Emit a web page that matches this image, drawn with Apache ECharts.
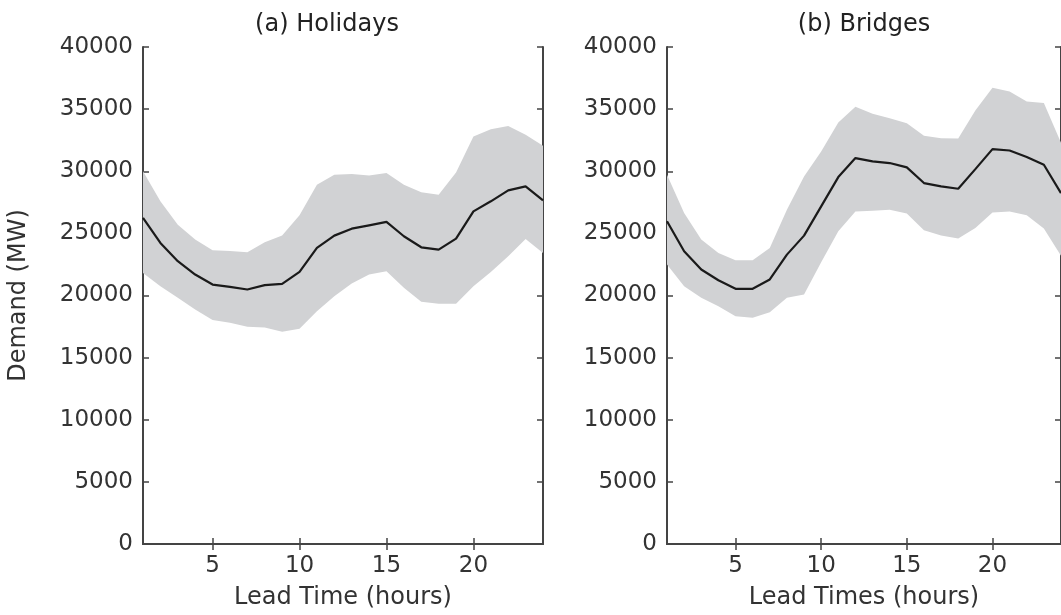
<!DOCTYPE html>
<html style="height: 100%">
<head>
<meta charset="utf-8">
<script src="https://cdn.jsdelivr.net/npm/echarts@6/dist/echarts.min.js"></script>
</head>
<body style="height: 100%; margin: 0; background: #fff">
<div id="container" style="width: 1061px; height: 615px;"></div>
<script type="text/javascript">
// lead times 1..24 h
var hours = [];
for (var h = 1; h <= 24; h++) hours.push(String(h));

// (a) holidays
var holMean  = [26240, 24230, 22760, 21690, 20880, 20700, 20480, 20830, 20940, 21900, 23830, 24820, 25380, 25650, 25920, 24770, 23880, 23690, 24580, 26770, 27580, 28460, 28780, 27650];
var holUpper = [29990, 27580, 25700, 24500, 23640, 23590, 23480, 24280, 24820, 26450, 28920, 29720, 29770, 29660, 29850, 28920, 28300, 28110, 29900, 32800, 33390, 33650, 32930, 32050];
var holLower = [21820, 20750, 19810, 18880, 18020, 17800, 17480, 17430, 17080, 17320, 18740, 19940, 20960, 21690, 21950, 20620, 19490, 19330, 19330, 20750, 21900, 23160, 24550, 23430];

// (b) bridges
var briMean  = [25970, 23560, 22090, 21230, 20540, 20540, 21290, 23290, 24820, 27170, 29530, 31060, 30790, 30660, 30310, 29050, 28780, 28590, 30170, 31780, 31670, 31140, 30520, 28240];
var briUpper = [29720, 26640, 24500, 23430, 22840, 22840, 23830, 26910, 29580, 31590, 33920, 35200, 34620, 34270, 33870, 32850, 32660, 32630, 34880, 36730, 36410, 35610, 35500, 32300];
var briLower = [22490, 20750, 19810, 19140, 18340, 18210, 18660, 19810, 20080, 22670, 25170, 26770, 26830, 26910, 26590, 25250, 24820, 24580, 25440, 26690, 26770, 26450, 25400, 23200];

var FONT = 'DejaVu Sans';
var TXT = '#333';
var AX = '#444';
var BAND = '#d1d2d4';

function tickEvery5(idx) { return (idx + 1) % 5 === 0; }

function xAx(grid, pos, name) {
    return {
        type: 'category', gridIndex: grid, position: pos, data: hours, boundaryGap: false,
        name: name, nameLocation: 'middle', nameGap: 42,
        nameTextStyle: { fontFamily: FONT, fontSize: 24, color: TXT },
        axisLine: { show: true, lineStyle: { color: AX, width: 2 } },
        axisTick: { show: true, inside: true, length: 6, interval: tickEvery5, lineStyle: { color: AX, width: 1.5 } },
        axisLabel: { show: pos === 'bottom', interval: tickEvery5, margin: 11, fontFamily: FONT, fontSize: 23, color: TXT },
        splitLine: { show: false }
    };
}
function yAx(grid, pos, name) {
    return {
        type: 'value', gridIndex: grid, position: pos, min: 0, max: 40000, interval: 5000,
        name: name, nameLocation: 'middle', nameGap: 112, nameRotate: 90,
        nameTextStyle: { fontFamily: FONT, fontSize: 24, color: TXT },
        axisLine: { show: true, lineStyle: { color: AX, width: 2 } },
        axisTick: { show: true, inside: true, length: 6, lineStyle: { color: AX, width: 1.5 } },
        axisLabel: { show: pos === 'left', margin: 10, fontFamily: FONT, fontSize: 23, color: TXT,
                     formatter: function (v) { return String(v); } },
        splitLine: { show: false }
    };
}

function diff(a, b) { return a.map(function (v, i) { return v - b[i]; }); }

function panel(xi, yi, mean, upper, lower) {
    return [
        { type: 'line', xAxisIndex: xi, yAxisIndex: yi, stack: 'band' + xi, data: lower,
          symbol: 'none', lineStyle: { width: 0, opacity: 0 }, silent: true, z: 1 },
        { type: 'line', xAxisIndex: xi, yAxisIndex: yi, stack: 'band' + xi, data: diff(upper, lower),
          symbol: 'none', lineStyle: { width: 0, opacity: 0 }, areaStyle: { color: BAND, opacity: 1 }, silent: true, z: 2 },
        { type: 'line', xAxisIndex: xi, yAxisIndex: yi, data: mean,
          symbol: 'none', lineStyle: { color: '#1a1a1a', width: 2.2 }, z: 3 }
    ];
}

var chart = echarts.init(document.getElementById('container'), null, { renderer: 'canvas' });
var option = {
    animation: false,
    backgroundColor: '#fff',
    title: [
        { text: '(a) Holidays', left: 322, top: 8, textAlign: 'center',
          textStyle: { fontFamily: FONT, fontSize: 24, fontWeight: 'normal', color: '#222' } },
        { text: '(b) Bridges', left: 859, top: 8, textAlign: 'center',
          textStyle: { fontFamily: FONT, fontSize: 24, fontWeight: 'normal', color: '#222' } }
    ],
    grid: [
        { left: 143, top: 47, width: 400, height: 498 },
        { left: 667, top: 47, width: 399, height: 498 }
    ],
    xAxis: [
        xAx(0, 'bottom', 'Lead Time (hours)'),
        xAx(0, 'top', ''),
        xAx(1, 'bottom', 'Lead Times (hours)'),
        xAx(1, 'top', '')
    ],
    yAxis: [
        yAx(0, 'left', 'Demand (MW)'),
        yAx(0, 'right', ''),
        yAx(1, 'left', ''),
        yAx(1, 'right', '')
    ],
    series: [].concat(
        panel(0, 0, holMean, holUpper, holLower),
        panel(2, 2, briMean, briUpper, briLower)
    )
};
chart.setOption(option);
</script>
</body>
</html>
